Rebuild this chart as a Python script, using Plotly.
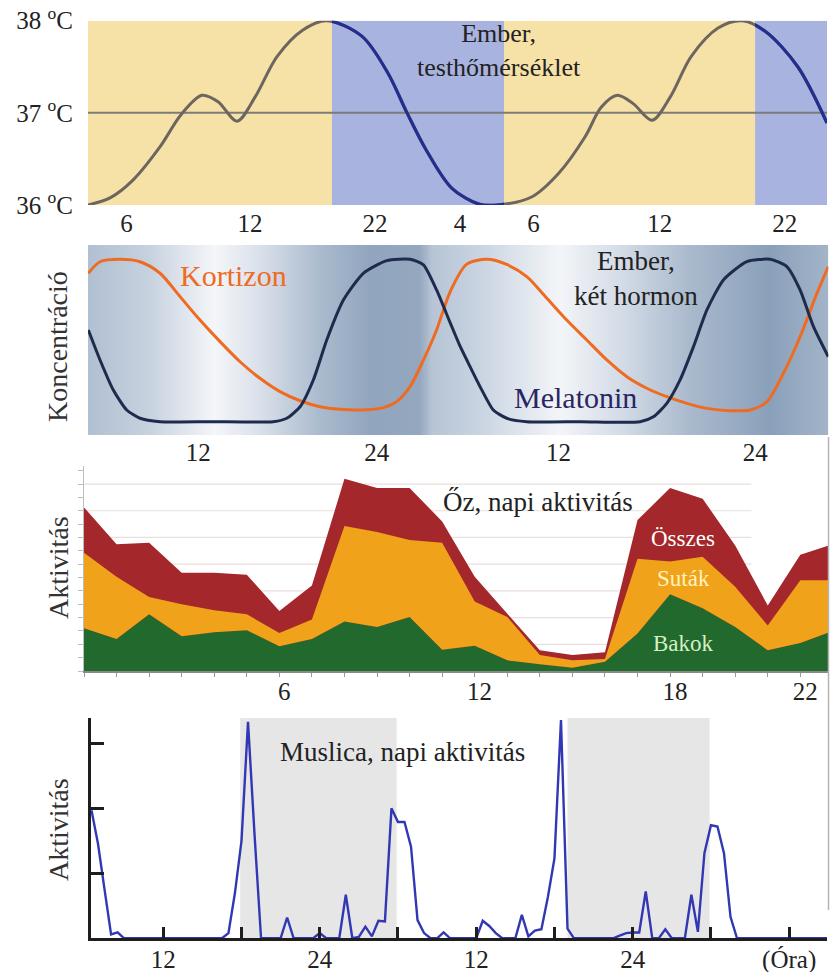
import plotly.graph_objects as go
import numpy as np

W, H = 834, 972


def fx(px):
    return px / W


def fy(py):
    return 1 - py / H


FONT = '"Liberation Serif", "Times New Roman", Times, serif'

# ---------------- Panel 1: body temperature ----------------
temp_hours = [0, 1.3, 2.6, 4.16, 5.38, 6.59, 7.52, 8.62, 9.66, 10.93, 12.43, 13.82,
              15.85, 17.35, 18.45, 19.55, 21.05, 22.61, 23.66, 25.68, 27.25, 28.75,
              29.68, 30.61, 31.53, 32.63, 33.67, 34.88, 36.44, 37.83, 39.2, 41.05, 42.74]
temp_values = [36.0, 36.08, 36.27, 36.63, 36.98, 37.19, 37.12, 36.91, 37.17, 37.61, 37.9, 38.0,
               37.83, 37.43, 37.0, 36.6, 36.18, 36.01, 36.0, 36.09, 36.35, 36.74,
               37.06, 37.19, 37.1, 36.92, 37.17, 37.61, 37.92, 38.0, 37.88, 37.5, 36.89]
p1_span = [0, 42.74]
p1_night_start = [14.11, 38.58]
p1_night_end = [24.06, 42.74]
p1_tick_hours = [2.23, 9.37, 16.6, 21.52, 25.76, 33.06, 40.29]
p1_tick_text = ["6", "12", "22", "4", "6", "12", "22"]
p1_ytick_vals = [36, 37, 38]
p1_ytick_text = ["36 <sup>o</sup>C", "37 <sup>o</sup>C", "38 <sup>o</sup>C"]

# ---------------- Panel 2: hormones ----------------
p2_span = [0, 48]
kort_hours = [0.02, 0.78, 2.08, 3.37, 4.67, 5.97, 7.26, 8.56, 9.86, 11.15, 12.45, 13.75,
              15.05, 16.34, 17.64, 18.94, 20.0, 20.88, 21.75, 22.6, 23.48, 24.56, 25.86,
              27.15, 28.45, 29.75, 31.04, 32.34, 33.64, 34.94, 36.23, 37.53, 38.83, 40.13,
              41.63, 42.93, 44.02, 45.09, 46.17, 47.26, 48.0]
kort_values = [0.914, 0.985, 1.0, 0.985, 0.914, 0.77, 0.626, 0.493, 0.369, 0.267, 0.185, 0.129,
               0.092, 0.076, 0.072, 0.082, 0.123, 0.216, 0.38, 0.565, 0.8, 0.97, 1.0,
               0.968, 0.893, 0.76, 0.626, 0.503, 0.38, 0.277, 0.206, 0.154, 0.113, 0.082,
               0.068, 0.072, 0.123, 0.298, 0.523, 0.79, 0.955]
mel_hours = [0.02, 0.78, 1.64, 2.51, 3.37, 4.67, 8.0, 12.0, 12.89, 13.75, 14.61, 15.48, 16.56,
             17.85, 19.37, 20.88, 21.75, 22.6, 23.48, 24.1, 24.56, 25.42, 26.28, 27.15, 28.45,
             32.0, 35.8, 36.66, 37.53, 38.39, 39.26, 40.13, 41.2, 42.72, 44.23, 45.31, 46.17,
             47.04, 48.0]
mel_values = [0.565, 0.38, 0.195, 0.072, 0.021, 0.0, 0.0, 0.0, 0.021, 0.092, 0.257, 0.503, 0.749,
              0.914, 0.992, 1.0, 0.966, 0.811, 0.61, 0.47, 0.38, 0.216, 0.072, 0.021, 0.0,
              0.0, 0.0, 0.03, 0.113, 0.257, 0.462, 0.688, 0.873, 0.986, 1.0, 0.955, 0.811,
              0.585, 0.40]
p2_bg_hours = [0, 4.0, 8.2, 11.2, 15.0, 18.3, 21.5, 22.3, 25.4, 30.6, 34.5, 39.0, 44.2, 48.0]
p2_bg_colors = ["#b0bfd2", "#c7d2df", "#f4f6f9", "#d9e0ea", "#abbbce", "#91a5be", "#94a7bf",
                "#b6c4d5", "#c9d4e1", "#f3f5f8", "#d4dce7", "#aabacd", "#8aa0ba", "#a3b4c8"]
p2_tick_hours = [7.15, 18.72, 30.5, 43.26]
p2_tick_text = ["12", "24", "12", "24"]

# ---------------- Panel 3: roe deer activity ----------------
deer_hours = list(range(24))
osszes = [12.25, 9.5, 9.6, 7.35, 7.35, 7.2, 4.5, 6.4, 14.4, 13.7, 13.7, 11.2,
          7.05, 4.3, 1.55, 1.2, 1.4, 11.3, 13.7, 12.9, 9.4, 4.9, 8.7, 9.5]
bakok = [3.2, 2.4, 4.25, 2.6, 2.9, 3.05, 1.85, 2.4, 3.7, 3.3, 4.05, 1.6,
         1.9, 0.8, 0.5, 0.25, 0.7, 2.8, 5.75, 4.7, 3.3, 1.55, 2.1, 3.0]
sutak = [5.65, 4.65, 1.3, 2.4, 1.65, 1.2, 1.0, 1.45, 7.15, 7.1, 5.75, 8.0,
         3.3, 3.25, 0.7, 0.55, 0.2, 5.6, 2.45, 3.85, 3.0, 1.85, 4.7, 3.8]
p3_span = [0, 22.85]
p3_tick_hours = [6.15, 12.15, 18.15, 22.15]
p3_tick_text = ["6", "12", "18", "22"]
p3_grid_levels = [2, 4, 6, 8, 10, 12, 14]
p3_grid_end = 20.5

# ---------------- Panel 4: fruit fly activity ----------------
fly_start, fly_step = 6.5, 0.5
fly_values = [1.97, 1.45, 0.75, 0.06, 0.09, 0,
              0, 0, 0, 0, 0, 0, 0, 0, 0, 0, 0, 0, 0, 0, 0,
              0.08, 0.7, 1.5, 3.33, 1.6, 0, 0, 0, 0, 0.32, 0, 0, 0, 0,
              0.08, 0, 0, 0, 0.67, 0, 0.02, 0.18, 0.03, 0.27, 0.26,
              2.0, 1.79, 1.79, 1.41, 0.28, 0.08, 0, 0, 0.09, 0,
              0, 0, 0, 0, 0.27, 0.19, 0.08, 0, 0, 0, 0.36, 0.03, 0.12, 0.14,
              0.64, 1.23, 3.36, 0.15, 0, 0, 0, 0, 0, 0, 0,
              0.04, 0.08, 0.09, 0.09, 0.72, 0, 0, 0.14, 0, 0, 0, 0.67, 0.1,
              1.31, 1.74, 1.72, 1.31, 0.33, 0,
              0, 0, 0, 0, 0, 0, 0, 0, 0, 0, 0, 0, 0, 0]
fly_hours = fly_start + fly_step * np.arange(len(fly_values))
p4_span = [6.46, 62.9]
p4_dark_start = [17.9, 43.0]
p4_dark_end = [29.9, 53.9]
p4_tick_hours = [12, 18, 24, 30, 36, 42, 48, 54, 60]
p4_tick_labels = ["12", "24", "12", "24", "(Óra)"]
p4_label_hours = [12, 24, 36, 48, 60]

# ---------------- colours ----------------
C_DAY = "#f6e1a6"
C_NIGHT = "#a9b3df"
C_TEMP_DAY = "#6d6660"
C_TEMP_NIGHT = "#232f8e"
C_KORT = "#ef6b22"
C_MEL = "#1f2b4d"
C_RED = "#a4272b"
C_ORANGE = "#f0a21b"
C_GREEN = "#21692c"
C_FLY = "#3238b4"
C_TXT = "#222222"

fig = go.Figure()

# ---------- layout geometry (pixels) ----------
P1 = dict(x0=88, x1=827, y0=20.7, y1=205)
P2 = dict(x0=88, x1=828.3, y0=245, y1=435)
P3 = dict(x0=84, x1=828, y0=466, y1=671)
P4 = dict(x0=91, x1=827, y0=718, y1=938.3)


def sub_domain(t0, t1, span, P):
    frac0 = (t0 - span[0]) / (span[1] - span[0])
    frac1 = (t1 - span[0]) / (span[1] - span[0])
    w = P["x1"] - P["x0"]
    return [fx(P["x0"] + frac0 * w), fx(P["x0"] + frac1 * w)]


# ---------- Panel 1 traces ----------
fig.add_trace(go.Scatter(x=temp_hours, y=temp_values, mode="lines",
                         line=dict(color=C_TEMP_DAY, width=3, shape="spline", smoothing=0.9),
                         xaxis="x", yaxis="y", hoverinfo="skip", showlegend=False))
for i, (a, b) in enumerate(zip(p1_night_start, p1_night_end)):
    ax = "x%d" % (i + 2)
    fig.add_trace(go.Scatter(x=temp_hours, y=temp_values, mode="lines",
                             line=dict(color=C_TEMP_NIGHT, width=3.2, shape="spline", smoothing=0.9),
                             xaxis=ax, yaxis="y", hoverinfo="skip", showlegend=False))

shapes = []
day_edges = [p1_span[0]] + [v for pair in zip(p1_night_start, p1_night_end) for v in pair] + [p1_span[1]]
for i in range(len(day_edges) - 1):
    a, b = day_edges[i], day_edges[i + 1]
    if b <= a:
        continue
    color = C_DAY if i % 2 == 0 else C_NIGHT
    shapes.append(dict(type="rect", xref="x", yref="y", x0=a, x1=b, y0=36, y1=38,
                       fillcolor=color, line=dict(width=0), layer="below"))
shapes.append(dict(type="line", xref="x", yref="y", x0=p1_span[0], x1=p1_span[1], y0=37, y1=37,
                   line=dict(color="#7d7b78", width=2), layer="below"))

# ---------- Panel 2 traces ----------
grad = [[(h - p2_span[0]) / (p2_span[1] - p2_span[0]), c] for h, c in zip(p2_bg_hours, p2_bg_colors)]
ylo2, yhi2 = -0.082, 1.088
fig.add_trace(go.Scatter(x=[p2_span[0], p2_span[1], p2_span[1], p2_span[0], p2_span[0]],
                         y=[ylo2, ylo2, yhi2, yhi2, ylo2], mode="lines", fill="toself",
                         line=dict(width=0),
                         fillgradient=dict(type="horizontal", colorscale=grad,
                                           start=p2_span[0], stop=p2_span[1]),
                         xaxis="x4", yaxis="y2", hoverinfo="skip", showlegend=False))
fig.add_trace(go.Scatter(x=kort_hours, y=kort_values, mode="lines",
                         line=dict(color=C_KORT, width=3, shape="spline", smoothing=0.8),
                         xaxis="x4", yaxis="y2", hoverinfo="skip", showlegend=False))
fig.add_trace(go.Scatter(x=mel_hours, y=mel_values, mode="lines",
                         line=dict(color=C_MEL, width=3, shape="spline", smoothing=0.6),
                         xaxis="x4", yaxis="y2", hoverinfo="skip", showlegend=False))

# ---------- Panel 3 traces ----------
for g in p3_grid_levels:
    shapes.append(dict(type="line", xref="x5", yref="y3", x0=0, x1=p3_grid_end, y0=g, y1=g,
                       line=dict(color="#ecdede", width=1.2), layer="below"))
fig.add_trace(go.Scatter(x=deer_hours, y=osszes, mode="lines", fill="tozeroy",
                         fillcolor=C_RED, line=dict(width=0, color=C_RED),
                         xaxis="x5", yaxis="y3", hoverinfo="skip", showlegend=False))
fig.add_trace(go.Scatter(x=deer_hours, y=bakok, mode="lines", stackgroup="deer",
                         fillcolor=C_GREEN, line=dict(width=0, color=C_GREEN),
                         xaxis="x5", yaxis="y3", hoverinfo="skip", showlegend=False))
fig.add_trace(go.Scatter(x=deer_hours, y=sutak, mode="lines", stackgroup="deer",
                         fillcolor=C_ORANGE, line=dict(width=0, color=C_ORANGE),
                         xaxis="x5", yaxis="y3", hoverinfo="skip", showlegend=False))

# ---------- Panel 4 traces ----------
for a, b in zip(p4_dark_start, p4_dark_end):
    shapes.append(dict(type="rect", xref="x6", yref="y4 domain", x0=a, x1=b, y0=0, y1=1,
                       fillcolor="#e6e6e6", line=dict(width=0), layer="below"))
fig.add_trace(go.Scatter(x=fly_hours, y=fly_values, mode="lines",
                         line=dict(color=C_FLY, width=2.4),
                         xaxis="x6", yaxis="y4", hoverinfo="skip", showlegend=False))

shapes.append(dict(type="line", xref="paper", yref="paper", x0=fx(828.5), x1=fx(828.5),
                   y0=fy(437), y1=fy(910), line=dict(color="#b5b5b5", width=1.5)))

# ---------- axes ----------
tickfont = dict(family=FONT, size=25, color=C_TXT)
layout = dict(
    width=W, height=H, margin=dict(l=0, r=0, t=0, b=0, pad=0, autoexpand=False),
    paper_bgcolor="white", plot_bgcolor="rgba(0,0,0,0)",
    showlegend=False, font=dict(family=FONT, color=C_TXT),
    shapes=shapes,
)
layout["xaxis"] = dict(domain=[fx(P1["x0"]), fx(P1["x1"])], range=p1_span, anchor="y",
                       tickvals=p1_tick_hours, ticktext=p1_tick_text, tickfont=tickfont,
                       showgrid=False, zeroline=False, showline=False, automargin=False,
                       ticks="", ticklabelstandoff=1)
layout["yaxis"] = dict(domain=[fy(P1["y1"]), fy(P1["y0"])], range=[36, 38], anchor="x",
                       tickvals=p1_ytick_vals, ticktext=p1_ytick_text, tickfont=tickfont,
                       showgrid=False, zeroline=False, showline=False, automargin=False,
                       ticks="", ticklabelstandoff=14)
for i, (a, b) in enumerate(zip(p1_night_start, p1_night_end)):
    layout["xaxis%d" % (i + 2)] = dict(domain=sub_domain(a, b, p1_span, P1), range=[a, b],
                                       anchor="y", visible=False, automargin=False)

layout["xaxis4"] = dict(domain=[fx(P2["x0"]), fx(P2["x1"])], range=p2_span, anchor="y2",
                        tickvals=p2_tick_hours, ticktext=p2_tick_text, tickfont=tickfont,
                        showgrid=False, zeroline=False, showline=False, automargin=False,
                        ticks="", ticklabelstandoff=0)
layout["yaxis2"] = dict(domain=[fy(P2["y1"]), fy(P2["y0"])], range=[ylo2, yhi2], anchor="x4",
                        visible=False, automargin=False)

layout["xaxis5"] = dict(domain=[fx(P3["x0"]), fx(P3["x1"])], range=p3_span, anchor="y3",
                        tickvals=p3_tick_hours, ticktext=p3_tick_text,
                        tickfont=tickfont, showgrid=False, zeroline=False, automargin=False,
                        showline=True, linecolor="#8a8a8a", linewidth=1.5,
                        ticks="", ticklabelstandoff=-3,
                        minor=dict(tickvals=deer_hours[:23], ticks="outside",
                                   ticklen=4, tickcolor="#9a9a9a", tickwidth=1,
                                   showgrid=False))
layout["yaxis3"] = dict(domain=[fy(P3["y1"]), fy(P3["y0"])], range=[0, 15.35], anchor="x5",
                        tickvals=p3_grid_levels, showticklabels=False,
                        showgrid=False, zeroline=False,
                        showline=True, linecolor="#bdbdbd", linewidth=1.2, automargin=False,
                        ticks="outside", ticklen=5, tickcolor="#bdbdbd",
                        minor=dict(dtick=1, ticks="outside", ticklen=5, tickcolor="#bdbdbd",
                                   showgrid=False))

layout["xaxis6"] = dict(domain=[fx(P4["x0"]), fx(P4["x1"])], range=p4_span, anchor="y4",
                        tickvals=p4_label_hours, ticktext=p4_tick_labels, tickfont=tickfont,
                        showgrid=False, zeroline=False, automargin=False,
                        showline=True, linecolor="#1e1e1e", linewidth=2.5,
                        ticks="inside", ticklen=12, tickwidth=2.5, tickcolor="#1e1e1e",
                        ticklabelstandoff=-3,
                        minor=dict(tickvals=p4_tick_hours, ticks="inside", ticklen=12,
                                   tickwidth=2.5, tickcolor="#1e1e1e", showgrid=False))
layout["yaxis4"] = dict(domain=[fy(P4["y1"]), fy(P4["y0"])], range=[0, 3.39], anchor="x6",
                        tickvals=[1, 2, 3], showticklabels=False,
                        showgrid=False, zeroline=False, automargin=False,
                        showline=True, linecolor="#1e1e1e", linewidth=2.5,
                        ticks="inside", ticklen=13, tickwidth=2.5, tickcolor="#1e1e1e")

fig.update_layout(**layout)


def note(text, px, py, size, color=C_TXT, angle=0):
    fig.add_annotation(text=text, x=fx(px), y=fy(py), xref="paper", yref="paper",
                       showarrow=False, xanchor="center", yanchor="middle",
                       textangle=angle, font=dict(family=FONT, size=size, color=color))


note("Ember,<br>testhőmérséklet", 499, 50, 26)
note("Kortizon", 233, 276, 30, C_KORT)
note("Ember,<br>két hormon", 636, 279, 27)
note("Melatonin", 575, 397, 30, "#2a2563")
note("Őz, napi aktivitás", 538, 502, 27)
note("Összes", 683, 538, 23, "#ffffff")
note("Suták", 683, 578, 23, "#fff3bf")
note("Bakok", 683, 643, 23, "#d6f0c6")
note("Muslica, napi aktivitás", 402, 752, 27)
note("Koncentráció", 58, 347, 28, "#333333", -90)
note("Aktivitás", 58, 568, 28, "#333333", -90)
note("Aktivitás", 58, 830, 28, "#333333", -90)

fig.write_html("out.html", config=dict(displayModeBar=False),
               post_script="document.body.style.margin='0px';document.body.style.overflow='hidden';")
